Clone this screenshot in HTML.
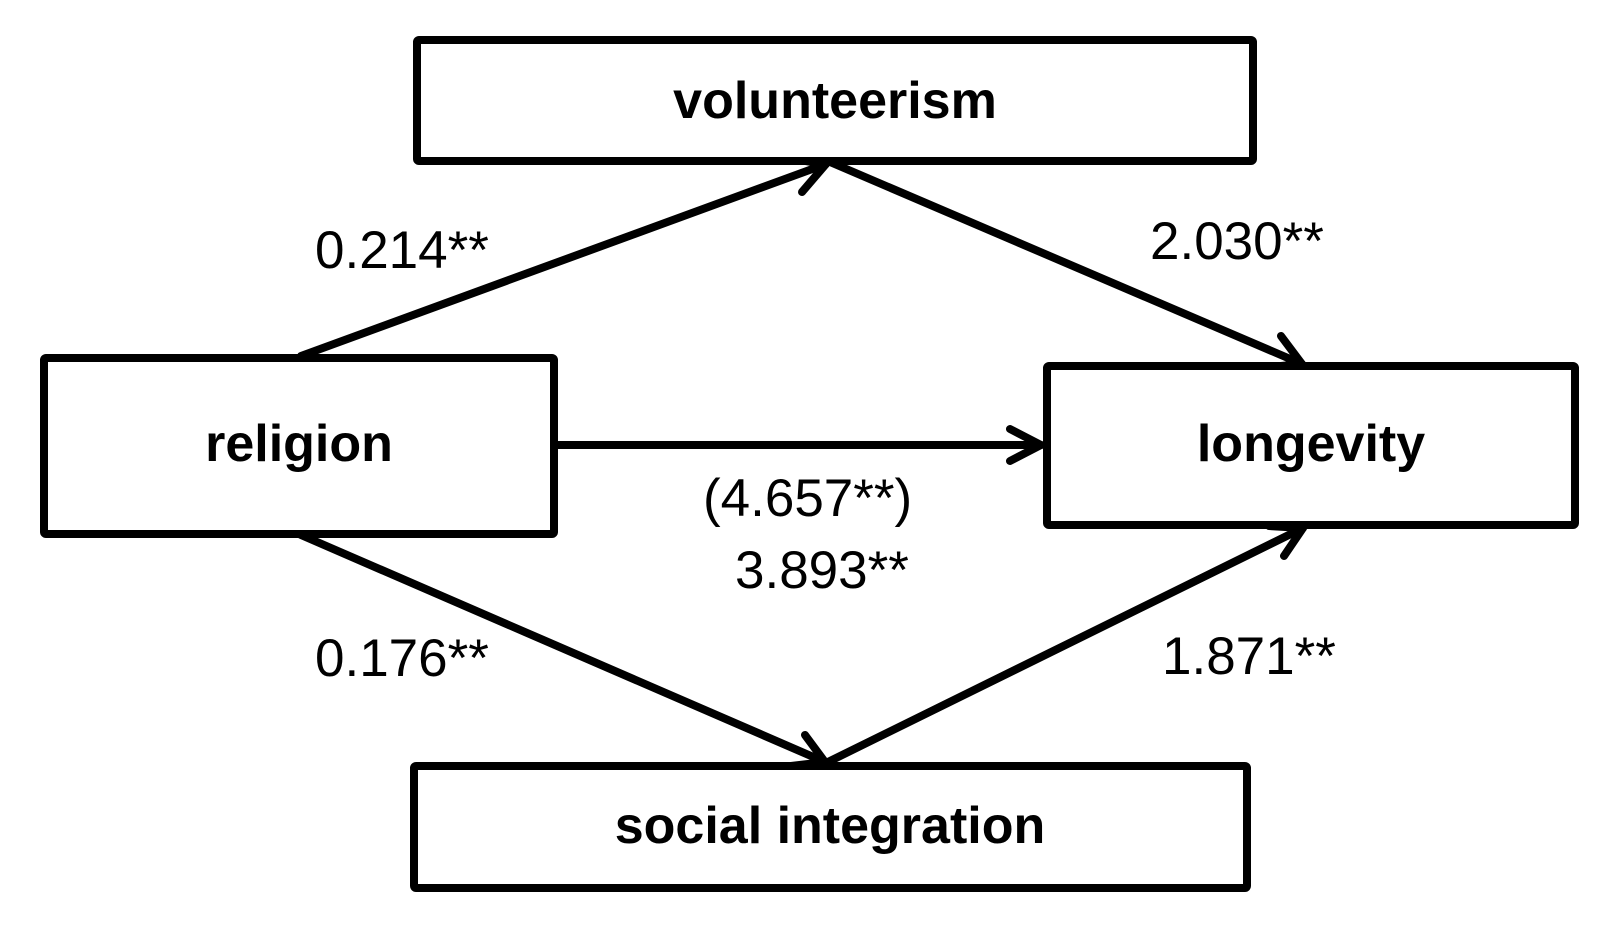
<!DOCTYPE html>
<html>
<head>
<meta charset="utf-8">
<style>
  html, body { margin: 0; padding: 0; background: #ffffff; }
  body { width: 1612px; height: 926px; overflow: hidden; }
  svg { display: block; }
  .lbl { font-family: "Liberation Sans", Arial, sans-serif; font-size: 52px; font-weight: bold; fill: #000; }
  .num { font-family: "Liberation Sans", Arial, sans-serif; font-size: 53px; fill: #000; }
</style>
</head>
<body>
<svg width="1612" height="926" viewBox="0 0 1612 926" xmlns="http://www.w3.org/2000/svg">
  <rect x="0" y="0" width="1612" height="926" fill="#ffffff"/>

  <g stroke="#000" stroke-width="8" fill="none" stroke-linecap="round" stroke-linejoin="round">
    <!-- religion -> volunteerism -->
    <line x1="301" y1="356" x2="826" y2="164"/>
    <polyline points="792,159 826,164 802,192"/>
    <!-- volunteerism -> longevity -->
    <line x1="830" y1="162" x2="1302" y2="364"/>
    <polyline points="1281,336 1302,364 1270,367"/>
    <!-- religion -> longevity -->
    <line x1="553" y1="445" x2="1041" y2="445"/>
    <polyline points="1010,429 1041,445 1010,461"/>
    <!-- religion -> social integration -->
    <line x1="301" y1="535" x2="825" y2="762"/>
    <polyline points="805,735 825,762 791,766"/>
    <!-- social integration -> longevity -->
    <line x1="828" y1="762" x2="1303" y2="528"/>
    <polyline points="1269,526 1303,528 1284,556"/>
  </g>

  <g stroke="#000" stroke-width="8" fill="#fff">
    <rect x="417" y="40" width="836" height="121" rx="2"/>
    <rect x="44" y="358" width="510" height="176" rx="2"/>
    <rect x="1047" y="366" width="528" height="159" rx="2"/>
    <rect x="414" y="766" width="833" height="122" rx="2"/>
  </g>

  <text class="lbl" x="835" y="118" text-anchor="middle">volunteerism</text>
  <text class="lbl" x="299" y="461" text-anchor="middle">religion</text>
  <text class="lbl" x="1311" y="461" text-anchor="middle">longevity</text>
  <text class="lbl" x="830" y="843" text-anchor="middle">social integration</text>

  <text class="num" x="315" y="268">0.214**</text>
  <text class="num" x="1150" y="259">2.030**</text>
  <text class="num" x="703" y="516">(4.657**)</text>
  <text class="num" x="735" y="588">3.893**</text>
  <text class="num" x="315" y="676">0.176**</text>
  <text class="num" x="1162" y="674">1.871**</text>
</svg>
</body>
</html>
